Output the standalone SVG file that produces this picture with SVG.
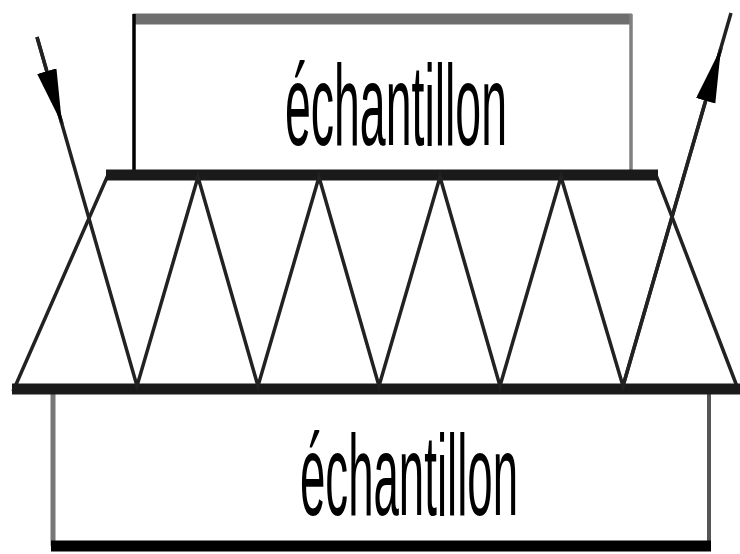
<svg xmlns="http://www.w3.org/2000/svg" width="740" height="554" viewBox="0 0 740 554">
  <style>
    .lbl { font-family: "Liberation Sans", Arial, sans-serif; font-size: 47px; fill: #000; }
    .edge { fill: none; stroke: #222; stroke-width: 3.5; }
    .hedge { stroke: #1a1a1a; stroke-width: 11; }
    .beam { fill: none; stroke: #222; stroke-width: 3.5; stroke-linejoin: miter; }
  </style>
  <defs>
    <marker id="arr" markerUnits="userSpaceOnUse" markerWidth="60" markerHeight="24" refX="55" refY="10" orient="auto">
      <path d="M0,0 L55,10 L0,20 z" fill="#000"/>
    </marker>
  </defs>
  <rect width="740" height="554" fill="#fff"/>

  <g id="sample-top">
    <line x1="133" y1="19" x2="632" y2="19" stroke="#6e6e6e" stroke-width="11"/>
    <line x1="134" y1="14" x2="134" y2="175" stroke="#000" stroke-width="3.5"/>
    <line x1="631" y1="14" x2="631" y2="175" stroke="#808080" stroke-width="3.5"/>
    <text class="lbl" transform="translate(396,145) scale(1,2.45)" text-anchor="middle" textLength="222" lengthAdjust="spacingAndGlyphs">échantillon</text>
  </g>

  <g id="sample-bottom">
    <line x1="53" y1="389" x2="53" y2="546" stroke="#777" stroke-width="5"/>
    <line x1="709" y1="389" x2="709" y2="546" stroke="#555" stroke-width="4"/>
    <line x1="51" y1="546" x2="711" y2="546" stroke="#000" stroke-width="11"/>
    <text class="lbl" transform="translate(409,515) scale(1,2.45)" text-anchor="middle" textLength="218" lengthAdjust="spacingAndGlyphs">échantillon</text>
  </g>

  <g id="crystal">
    <polygon class="edge" points="108,175 656,175 738,389 14,389"/>
    <line class="hedge" x1="106" y1="175" x2="658" y2="175"/>
    <line class="hedge" x1="12" y1="389" x2="740" y2="389" stroke="#333"/>
  </g>

  <g id="connectors">
    <path class="beam" d="M37,37 L137,386 L198,177 L258,386 L319,177 L379,386 L440,177 L500,386 L561,177 L623,386 L731,13"/>
    <path class="beam" d="M37,37 L62,124" marker-end="url(#arr)"/>
    <path class="beam" d="M623,386 L721,48" marker-end="url(#arr)"/>
  </g>
</svg>
